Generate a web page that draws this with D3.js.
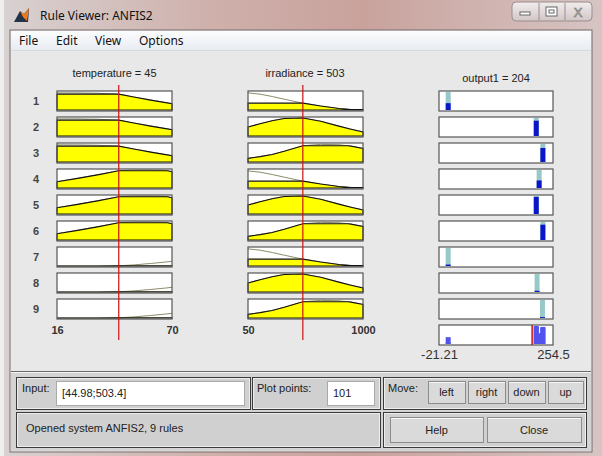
<!DOCTYPE html>
<html>
<head>
<meta charset="utf-8">
<script src="https://cdn.jsdelivr.net/npm/d3@7"></script>
<style>
body { margin: 0; background: #fff; }
svg text { font-family: "Liberation Sans", Arial, sans-serif; }
.menu text { font-family: "Noto Sans", "Open Sans", sans-serif; }
</style>
</head>
<body>
<svg id="chart" width="602" height="456"></svg>
<script>
"use strict";
// rules 1..9 : which membership function each input uses
var ruleNumbers = [1, 2, 3, 4, 5, 6, 7, 8, 9];
var tempMfOfRule = [0, 0, 0, 1, 1, 1, 2, 2, 2];
var irrMfOfRule = [0, 1, 2, 0, 1, 2, 0, 1, 2];

// temperature membership functions
var tempX = [16, 25, 35, 45, 52, 60, 67, 70];
var tempMf1 = [0.95, 0.95, 0.93, 0.88, 0.72, 0.55, 0.41, 0.35];
var tempMf2 = [0.35, 0.52, 0.73, 0.96, 1.0, 1.0, 0.98, 0.9];
var tempMf3 = [0, 0, 0, 0.01, 0.06, 0.14, 0.22, 0.26];
var tempDegree = [0.88, 0.96, 0.01];

// irradiance membership functions
var irrX = [50, 150, 250, 350, 503, 650, 800, 900, 1000];
var irrMf1 = [0.95, 0.88, 0.75, 0.6, 0.38, 0.22, 0.08, 0.03, 0.02];
var irrMf2 = [0.5, 0.68, 0.85, 0.97, 1.0, 0.82, 0.55, 0.38, 0.22];
var irrMf3 = [0.2, 0.3, 0.42, 0.6, 0.9, 0.98, 0.96, 0.88, 0.75];
var irrDegree = [0.38, 1.0, 0.9];

// rule outputs (sugeno constants) and firing strengths
var ruleOutput = [1, 214, 230, 221, 214, 230, 1, 216, 229];
var ruleStrength = [0.38, 0.85, 0.78, 0.42, 0.95, 0.85, 0.08, 0.07, 0.05];
// bar heights in the aggregated bottom row
var aggHeight = [0.38, 0.95, 0.9, 0.6, 1.0, 0.95, 0.08, 0.07, 0.05];

var inputValues = [45, 503];
var outputValue = 204;
var tempTicks = [16, 70];
var irrTicks = [50, 1000];
var outTicks = [-21.21, 254.5];

var svg = d3.select("#chart");

// ---------- window chrome ----------
var defs = svg.append("defs");
var bg = defs.append("linearGradient").attr("id", "aero").attr("x1", 0).attr("x2", 1);
bg.append("stop").attr("offset", 0).attr("stop-color", "#d8d2d2");
bg.append("stop").attr("offset", 0.35).attr("stop-color", "#cfb0ab");
bg.append("stop").attr("offset", 0.6).attr("stop-color", "#c9a29c");
bg.append("stop").attr("offset", 1).attr("stop-color", "#d6c4c3");
var menuGrad = defs.append("linearGradient").attr("id", "menu").attr("x1", 0).attr("x2", 0).attr("y1", 0).attr("y2", 1);
menuGrad.append("stop").attr("offset", 0).attr("stop-color", "#fbfcfd");
menuGrad.append("stop").attr("offset", 1).attr("stop-color", "#e8ecf2");
var btnGrad = defs.append("linearGradient").attr("id", "wbtn").attr("x1", 0).attr("x2", 0).attr("y1", 0).attr("y2", 1);
btnGrad.append("stop").attr("offset", 0).attr("stop-color", "#f1eded");
btnGrad.append("stop").attr("offset", 1).attr("stop-color", "#d3c6c6");

svg.append("rect").attr("width", 602).attr("height", 456).attr("fill", "url(#aero)");
svg.append("rect").attr("x", 0).attr("y", 0).attr("width", 4).attr("height", 456).attr("fill", "#eeeeee");

// matlab icon
svg.append("path").attr("d", "M14,22 L20,11 L24,14 L29,8 L28,22 Z").attr("fill", "#233246");
svg.append("path").attr("d", "M20,11 L24,14 L29,8 L27,21 L23,17 Z").attr("fill", "#e87a22");
svg.append("text").attr("x", 40).attr("y", 20).attr("font-size", 12).attr("fill", "#111")
    .style("font-family", "'Noto Sans', sans-serif").text("Rule Viewer: ANFIS2");

// min / max / close buttons
var wb = svg.append("g");
wb.append("rect").attr("x", 512).attr("y", 2).attr("width", 80).attr("height", 19).attr("rx", 4)
    .attr("fill", "url(#wbtn)").attr("stroke", "#9a8d8d");
wb.append("line").attr("x1", 539).attr("x2", 539).attr("y1", 3).attr("y2", 20).attr("stroke", "#9a8d8d");
wb.append("line").attr("x1", 565).attr("x2", 565).attr("y1", 3).attr("y2", 20).attr("stroke", "#9a8d8d");
wb.append("rect").attr("x", 520).attr("y", 12).attr("width", 10).attr("height", 3).attr("fill", "#fff").attr("stroke", "#666");
wb.append("rect").attr("x", 546).attr("y", 7).attr("width", 11).attr("height", 9).attr("fill", "#fff").attr("stroke", "#666");
wb.append("rect").attr("x", 549).attr("y", 10).attr("width", 5).attr("height", 3).attr("fill", "none").attr("stroke", "#666");
wb.append("text").attr("x", 578).attr("y", 17).attr("text-anchor", "middle").attr("font-size", 13)
    .attr("fill", "#fff").attr("stroke", "#777").attr("stroke-width", 0.7).text("X");

// client area
svg.append("rect").attr("x", 10).attr("y", 30).attr("width", 582).attr("height", 422)
    .attr("fill", "#e8e8e8").attr("stroke", "#7a6c6c");
var menu = svg.append("g").attr("class", "menu");
menu.append("rect").attr("x", 11).attr("y", 31).attr("width", 580).attr("height", 19).attr("fill", "url(#menu)");
menu.append("line").attr("x1", 11).attr("x2", 591).attr("y1", 50.5).attr("y2", 50.5).attr("stroke", "#d6d9de");
[["File", 19], ["Edit", 56], ["View", 95], ["Options", 139]].forEach(function (m) {
    menu.append("text").attr("x", m[1]).attr("y", 45).attr("font-size", 12).attr("fill", "#111").text(m[0]);
});

// ---------- rule plots ----------
var rowTop = d3.scaleLinear().domain([1, 10]).range([91, 325]);
var rowH = 20;
var xTemp = d3.scaleLinear().domain([16, 70]).range([57, 172]);
var xIrr = d3.scaleLinear().domain([50, 1000]).range([248, 363]);
var xOut = d3.scaleLinear().domain([-21.21, 254.5]).range([439, 553]);
var tempMfs = [tempMf1, tempMf2, tempMf3];
var irrMfs = [irrMf1, irrMf2, irrMf3];

function clipToLevel(xs, ys, level) {
    var pts = [];
    xs.forEach(function (x, i) {
        if (i > 0 && (ys[i - 1] - level) * (ys[i] - level) < 0) {
            var t = (level - ys[i - 1]) / (ys[i] - ys[i - 1]);
            pts.push([xs[i - 1] + t * (x - xs[i - 1]), level]);
        }
        pts.push([x, Math.min(ys[i], level)]);
    });
    return pts;
}

function drawMfCell(g, xScale, xs, ys, level, rule) {
    var top = rowTop(rule);
    var y = d3.scaleLinear().domain([0, 1]).range([top + rowH - 1, top + 1]);
    var r0 = xScale.range();
    g.append("rect").attr("x", r0[0]).attr("y", top).attr("width", r0[1] - r0[0]).attr("height", rowH)
        .attr("fill", "#fff");
    var line = d3.line().x(function (d, i) { return xScale(xs[i]); }).y(function (d) { return y(d); });
    g.append("path").datum(ys).attr("d", line).attr("fill", "none")
        .attr("stroke", "#8e8c6c").attr("stroke-width", 1);
    var area = d3.area()
        .x(function (d) { return xScale(d[0]); })
        .y0(y(0))
        .y1(function (d) { return y(d[1]); });
    g.append("path").datum(clipToLevel(xs, ys, level)).attr("d", area)
        .attr("fill", "#ffff00").attr("stroke", "#111").attr("stroke-width", 1.1);
    g.append("rect").attr("x", r0[0]).attr("y", top).attr("width", r0[1] - r0[0]).attr("height", rowH)
        .attr("fill", "none").attr("stroke", "#555").attr("stroke-width", 1.2);
}

var plots = svg.append("g");
ruleNumbers.forEach(function (rule, i) {
    plots.append("text").attr("x", 36).attr("y", rowTop(rule) + rowH / 2 + 4)
        .attr("text-anchor", "middle").attr("font-size", 11).attr("font-weight", "bold")
        .attr("fill", "#444").text(rule);
    drawMfCell(plots, xTemp, tempX, tempMfs[tempMfOfRule[i]], tempDegree[tempMfOfRule[i]], rule);
    drawMfCell(plots, xIrr, irrX, irrMfs[irrMfOfRule[i]], irrDegree[irrMfOfRule[i]], rule);

    // output cell
    var top = rowTop(rule);
    var y = d3.scaleLinear().domain([0, 1]).range([top + rowH - 1, top + 1]);
    plots.append("rect").attr("x", 439).attr("y", top).attr("width", 114).attr("height", rowH).attr("fill", "#fff");
    plots.append("rect").attr("x", xOut(ruleOutput[i]) - 2.5).attr("y", y(1)).attr("width", 5)
        .attr("height", y(0) - y(1)).attr("fill", "#98c9c9");
    plots.append("rect").attr("x", xOut(ruleOutput[i]) - 2.5).attr("y", y(ruleStrength[i])).attr("width", 5)
        .attr("height", y(0) - y(ruleStrength[i])).attr("fill", "#0b16c8");
    plots.append("rect").attr("x", 439).attr("y", top).attr("width", 114).attr("height", rowH)
        .attr("fill", "none").attr("stroke", "#555").attr("stroke-width", 1.2);
});

// aggregated output row
(function () {
    var top = rowTop(10);
    var y = d3.scaleLinear().domain([0, 1]).range([top + rowH - 1, top + 1]);
    plots.append("rect").attr("x", 439).attr("y", top).attr("width", 114).attr("height", rowH).attr("fill", "#fff");
    plots.selectAll(".agg").data(ruleOutput).enter().append("rect").attr("class", "agg")
        .attr("x", function (d) { return xOut(d) - 2.5; })
        .attr("y", function (d, i) { return y(aggHeight[i]); })
        .attr("width", 5)
        .attr("height", function (d, i) { return y(0) - y(aggHeight[i]); })
        .attr("fill", "#5252ee");
    plots.append("line").attr("x1", xOut(outputValue)).attr("x2", xOut(outputValue))
        .attr("y1", top).attr("y2", top + rowH).attr("stroke", "#c81010").attr("stroke-width", 1.5);
    plots.append("rect").attr("x", 439).attr("y", top).attr("width", 114).attr("height", rowH)
        .attr("fill", "none").attr("stroke", "#555").attr("stroke-width", 1.2);
}());

// input value lines
plots.append("line").attr("x1", xTemp(inputValues[0])).attr("x2", xTemp(inputValues[0]))
    .attr("y1", 85).attr("y2", 340).attr("stroke", "#cc1111").attr("stroke-width", 1.2);
plots.append("line").attr("x1", xIrr(inputValues[1])).attr("x2", xIrr(inputValues[1]))
    .attr("y1", 85).attr("y2", 340).attr("stroke", "#cc1111").attr("stroke-width", 1.2);

// titles
plots.append("text").attr("x", 114.5).attr("y", 77).attr("text-anchor", "middle").attr("font-size", 11)
    .attr("fill", "#222").text("temperature = " + inputValues[0]);
plots.append("text").attr("x", 305).attr("y", 77).attr("text-anchor", "middle").attr("font-size", 11)
    .attr("fill", "#222").text("irradiance = " + inputValues[1]);
plots.append("text").attr("x", 496).attr("y", 82).attr("text-anchor", "middle").attr("font-size", 11)
    .attr("fill", "#222").text("output1 = " + outputValue);

// axes
function tickAxis(scale, ticks, yPos, size, weight, fmt) {
    var g = plots.append("g").attr("transform", "translate(0," + yPos + ")")
        .call(d3.axisBottom(scale).tickValues(ticks).tickSize(0).tickFormat(fmt));
    g.select(".domain").remove();
    g.selectAll("text").attr("font-size", size).attr("font-weight", weight).attr("fill", "#333")
        .style("font-family", "'Liberation Sans', Arial, sans-serif");
}
tickAxis(xTemp, tempTicks, 323, 11, "bold", d3.format("d"));
tickAxis(xIrr, irrTicks, 323, 11, "bold", d3.format("d"));
tickAxis(xOut, outTicks, 347, 13, "normal", function (d) { return String(d); });

// ---------- bottom control panel ----------
var ctl = svg.append("g");
ctl.append("rect").attr("x", 11).attr("y", 372).attr("width", 580).attr("height", 79).attr("fill", "#d4d4d4");
ctl.append("line").attr("x1", 11).attr("x2", 591).attr("y1", 371.5).attr("y2", 371.5).attr("stroke", "#6a6a6a");
ctl.append("line").attr("x1", 11).attr("x2", 591).attr("y1", 372.5).attr("y2", 372.5).attr("stroke", "#f4f4f4");

function panel(x, y, w, h) {
    ctl.append("rect").attr("x", x + 0.5).attr("y", y + 0.5).attr("width", w).attr("height", h)
        .attr("fill", "#d0d0d0").attr("stroke", "#3a3a3a");
    ctl.append("rect").attr("x", x + 1.5).attr("y", y + 1.5).attr("width", w - 2).attr("height", h - 2)
        .attr("fill", "none").attr("stroke", "#ededed");
}
function field(x, y, w, h, txt) {
    ctl.append("rect").attr("x", x + 0.5).attr("y", y + 0.5).attr("width", w).attr("height", h)
        .attr("fill", "#fff").attr("stroke", "#a9a9a9");
    ctl.append("text").attr("x", x + 6).attr("y", y + 16).attr("font-size", 11).attr("fill", "#222").text(txt);
}
function button(x, y, w, h, txt) {
    ctl.append("rect").attr("x", x + 0.5).attr("y", y + 0.5).attr("width", w).attr("height", h)
        .attr("fill", "#dadada").attr("stroke", "#8c8c8c");
    ctl.append("line").attr("x1", x + 1).attr("x2", x + w).attr("y1", y + 1.5).attr("y2", y + 1.5).attr("stroke", "#f6f6f6");
    ctl.append("text").attr("x", x + w / 2).attr("y", y + h / 2 + 4).attr("text-anchor", "middle")
        .attr("font-size", 11).attr("fill", "#222").text(txt);
}
function label(x, y, txt) {
    ctl.append("text").attr("x", x).attr("y", y).attr("font-size", 11).attr("fill", "#222").text(txt);
}

panel(16, 377, 234, 32);
panel(252, 377, 128, 32);
panel(383, 377, 203, 32);
panel(16, 412, 364, 35);
panel(383, 412, 203, 35);

label(22, 392, "Input:");
field(56, 381, 188, 24, "[44.98;503.4]");
label(257, 392, "Plot points:");
field(327, 381, 47, 24, "101");
label(388, 392, "Move:");
button(428, 381, 37, 22, "left");
button(468, 381, 37, 22, "right");
button(508, 381, 37, 22, "down");
button(548, 381, 35, 22, "up");
label(26, 432, "Opened system ANFIS2, 9 rules");
button(390, 417, 93, 25, "Help");
button(487, 417, 94, 25, "Close");
</script>
</body>
</html>
